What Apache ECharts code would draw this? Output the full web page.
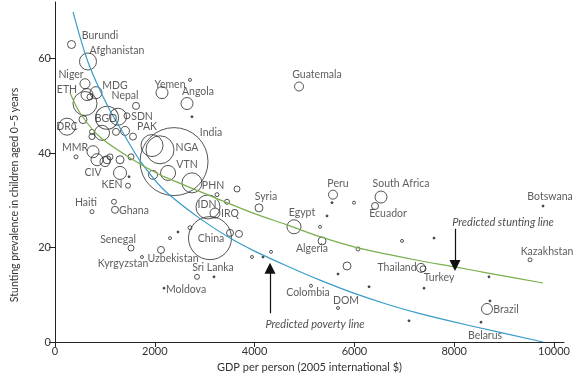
<!DOCTYPE html>
<html><head><meta charset="utf-8">
<script src="https://cdn.jsdelivr.net/npm/echarts@6/dist/echarts.min.js"></script>
<style>html,body{margin:0;padding:0;background:#fff}#c{width:573px;height:379px}</style>
</head><body><div id="c"></div>
<script>
// Bubbles: GDP per person (2005 int $), stunting prevalence (%), relative bubble weight
const bubbleGdp = [331,661,601,641,822,701,601,1623,1443,1042,1263,240,561,741,741,942,1222,1403,1563,421,762,842,1002,1042,1102,1303,1523,1944,2104,2385,2265,1964,2745,3066,3206,3106,3246,3447,3647,3507,3687,2705,4088,1303,1463,1483,1182,1202,741,1523,1743,2124,2846,3186,2184,2305,2465,4890,2144,2705,2645,2745,4790,5311,5451,5571,5551,5992,6533,6413,5351,6072,6954,4329,3948,4168,5852,5671,5130,6293,5671,7094,7335,7375,9780,7595,7395,9519,8697,8657,8717,8537];
const bubbleStunting = [63.0,59.4,54.7,52.4,52.8,51.9,50.5,50.0,47.9,47.5,47.7,45.6,47.1,43.5,44.5,44.3,44.5,44.7,43.5,39.2,40.3,38.6,38.2,38.6,39.2,38.6,39.2,41.6,40.7,38.2,35.8,35.4,33.7,28.6,27.3,22.0,31.2,29.7,32.4,23.1,22.9,24.2,28.4,35.8,33.1,35.0,29.7,28.0,27.6,19.9,18.0,19.5,13.8,13.8,11.4,22.0,23.3,54.1,52.8,55.5,50.5,47.7,24.4,24.4,26.7,31.2,29.5,29.5,30.7,28.8,21.4,19.7,21.4,19.1,18.0,18.0,16.1,14.4,11.9,11.7,7.2,4.5,15.7,15.5,28.8,22.0,11.4,17.4,13.8,7.0,8.7,4.2];
const bubbleWeight = [4,18.1,6.25,9,9,2.25,36,3.06,2.25,33.1,18.1,18.1,4,2.25,1.56,14.1,3.06,5.06,3.06,1,9,9,6.25,4,2.25,4,2.25,30.3,49,289,14.1,5.06,25,36,6.25,115.6,1,1.56,2.25,3.06,3.06,1,4,10.6,1.56,0.25,1.56,3.06,1,2.25,0.56,3.06,1.56,0.25,0.25,0.56,0.25,5.06,9,0.56,9,0.25,12.25,0.56,0.25,5.06,0.25,0.56,9,3.06,4,1,0.56,0.56,0.56,0.25,4,0.25,0.56,0.25,0.56,0.25,5.06,2.25,0.25,0.25,0.25,1,0.25,7.56,0.25,0.25];

// Fitted lines
const povertyGdp = [361,661,1062,1363,1703,2164,2846,3507,3988,4649,5311,5972,6653,7315,8257,9780];
const povertyStunting = [69.9,59.3,49.8,44.3,38.4,32.4,26.6,22.0,19.3,16.1,13.1,10.4,8.0,6.0,3.6,0];
const stuntingGdp = [301,501,902,1563,2104,2505,3307,3968,4649,5311,5972,6653,7315,8016,8677,9780];
const stuntingStunting = [52.8,48.5,43.4,38.6,35.4,33.6,30.1,27.3,24.8,22.3,20.2,18.6,17.2,15.9,14.6,12.5];

// Country labels
const labelText = ["Burundi","Afghanistan","Niger","ETH","MDG","Nepal","SDN","BGD","PAK","DRC","India","MMR","NGA","VTN","CIV","KEN","Haiti","Ghana","PHN","IDN","IRQ","China","Syria","Egypt","Peru","South Africa","Ecuador","Algeria","Senegal","Kyrgyzstan","Uzbekistan","Sri Lanka","Moldova","Colombia","DOM","Thailand","Turkey","Belarus","Brazil","Kazakhstan","Botswana","Guatemala","Yemen","Angola"];
const labelGdp = [902,1242,321,240,1202,1403,1744,1022,1844,240,3126,401,2645,2645,762,1142,621,1583,3166,3046,3507,3126,4228,4950,5671,6934,6674,5150,1263,1363,2365,3166,2625,5070,5832,6854,7695,8617,9038,9860,9920,5250,2305,2866];
const labelStunting = [64.9,61.7,56.6,53.4,54.3,52.2,47.7,47.3,45.6,45.6,44.3,41.1,41.1,37.5,35.8,33.3,29.5,27.8,33.1,29.2,27.1,21.8,30.7,27.4,33.5,33.5,27.1,19.7,21.6,16.5,17.6,15.7,11.2,10.4,8.7,15.7,13.6,1.3,6.8,19.1,30.7,56.6,54.5,53.0];

// Annotations
const noteText = ["Predicted stunting line","Predicted poverty line"];
const noteGdp = [8978,5210];
const noteStunting = [25.4,3.8];
const arrowGdp = [8016,4309];
const arrowFrom = [24.0,6.1];
const arrowTo = [16.2,15.6];

const xTicks = [0,2000,4000,6000,8000,10000];
const yTicks = [0,20,40,60];
const yTitle = 'Stunting prevalence in children aged 0–5 years';
const xTitle = 'GDP per person (2005 international $)';

const FONT = 'Lato, "Liberation Sans", sans-serif';
const chart = echarts.init(document.getElementById('c'), null, {renderer:'canvas'});
const bubbles = bubbleGdp.map((g,i)=>[g,bubbleStunting[i],bubbleWeight[i]]);
chart.setOption({
  animation:false,
  grid:{left:55,right:9,top:2,bottom:37,containLabel:false},
  graphic:[{type:'text',x:15,y:195,rotation:Math.PI/2,silent:true,
    style:{text:yTitle,font:'10.5px '+FONT,fill:'#333',align:'center',verticalAlign:'middle'}}],
  xAxis:{type:'value',min:0,max:10200,
    name:xTitle,nameLocation:'middle',nameGap:19,
    nameTextStyle:{fontFamily:FONT,fontSize:11,color:'#333'},
    axisLine:{lineStyle:{color:'#222',width:1}},
    axisTick:{show:true,length:5,customValues:xTicks,lineStyle:{color:'#222'}},
    axisLabel:{customValues:xTicks,fontFamily:FONT,fontSize:11,color:'#333',margin:4,formatter:v=>String(v)},
    splitLine:{show:false}},
  yAxis:{type:'value',min:0,max:72,
    axisLine:{show:true,lineStyle:{color:'#222',width:1}},
    axisTick:{show:true,length:6,customValues:yTicks,lineStyle:{color:'#222'}},
    axisLabel:{customValues:yTicks,fontFamily:FONT,fontSize:11,color:'#333',margin:4},
    splitLine:{show:false}},
  series:[
    {type:'scatter',data:bubbles,z:2,
     symbolSize:v=>Math.max(2,Math.sqrt(v[2])*4),
     itemStyle:{color:p=>p.data[2]<0.3?'#333':'rgba(255,255,255,0)',borderColor:'#2a2a2a',borderWidth:1}},
    {type:'line',data:povertyGdp.map((g,i)=>[g,povertyStunting[i]]),smooth:0.3,symbol:'none',z:3,
     lineStyle:{color:'#3a9cc8',width:1.2}},
    {type:'line',data:stuntingGdp.map((g,i)=>[g,stuntingStunting[i]]),smooth:0.3,symbol:'none',z:3,
     lineStyle:{color:'#7aae4e',width:1.2}},
    {type:'scatter',symbolSize:0,z:5,silent:true,
     data:labelText.map((t,i)=>({name:t,value:[labelGdp[i],labelStunting[i]]})),
     label:{show:true,position:'inside',formatter:p=>p.name,fontFamily:FONT,fontSize:10.5,color:'#333'}},
    {type:'scatter',symbolSize:0,z:5,silent:true,
     data:noteText.map((t,i)=>({name:t,value:[noteGdp[i],noteStunting[i]]})),
     label:{show:true,position:'inside',formatter:p=>p.name,fontFamily:FONT,fontSize:11,fontStyle:'italic',color:'#222'}},
    {type:'lines',coordinateSystem:'cartesian2d',z:6,silent:true,
     symbol:['none','triangle'],symbolSize:[8,11],
     lineStyle:{color:'#111',width:1.2,opacity:1},
     data:arrowGdp.map((g,i)=>({coords:[[g,arrowFrom[i]],[g,arrowTo[i]]]}))}
  ]
});
</script></body></html>
